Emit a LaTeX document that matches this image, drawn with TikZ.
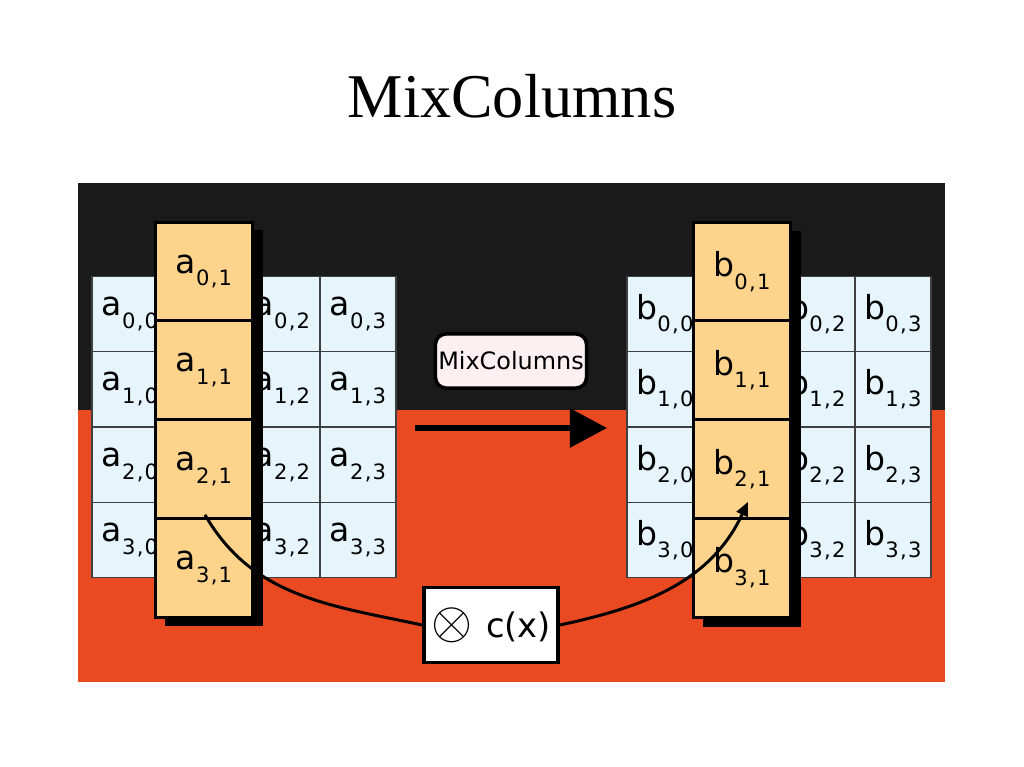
\documentclass[tikz,border=0pt]{standalone}
\usepackage{fontspec}
\setmainfont{Liberation Serif}
\newfontfamily\cellfont{DejaVu Sans}
\newfontfamily\subfont[LetterSpace=6]{DejaVu Sans}
\usepackage{tikz}
\usetikzlibrary{arrows.meta,positioning,calc}
\pgfdeclarelayer{bg}
\pgfsetlayers{bg,main}
\definecolor{panelblack}{RGB}{26,26,26}
\definecolor{panelred}{RGB}{233,74,34}
\definecolor{cellblue}{RGB}{230,245,252}
\definecolor{cellorange}{RGB}{254,212,140}
\definecolor{boxpink}{RGB}{253,240,240}
\newcommand{\ent}[2]{#1\raisebox{-3.6pt}{\subfont\fontsize{6}{6}\selectfont #2}}

\begin{document}
\begin{tikzpicture}[x=0.01cm,y=-0.01cm,
    statecell/.style={draw=black!75, line width=0.4pt, fill=cellblue, minimum width=0.76cm, minimum height=0.755cm, inner sep=0pt, font=\cellfont\fontsize{9.4}{10}\selectfont},
    colcell/.style={draw=black, line width=0.8pt, fill=cellorange, minimum width=0.97cm, minimum height=0.9875cm, inner sep=0pt, font=\cellfont\fontsize{9.4}{10}\selectfont}]
    \useasboundingbox (0,0) rectangle (1024,767);

    \node [font=\fontsize{17.7}{20}\selectfont, anchor=base] (title) at (512,118) {MixColumns};

    % state a
    \node [statecell] (a00) at (130,314) {\ent{a}{0,0}};
    \node [statecell] (a10) at (130,389) {\ent{a}{1,0}};
    \node [statecell] (a20) at (130,465) {\ent{a}{2,0}};
    \node [statecell] (a30) at (130,540) {\ent{a}{3,0}};
    \node [statecell] (a02) at (282,314) {\ent{a}{0,2}};
    \node [statecell] (a12) at (282,389) {\ent{a}{1,2}};
    \node [statecell] (a22) at (282,465) {\ent{a}{2,2}};
    \node [statecell] (a32) at (282,540) {\ent{a}{3,2}};
    \node [statecell] (a03) at (358,314) {\ent{a}{0,3}};
    \node [statecell] (a13) at (358,389) {\ent{a}{1,3}};
    \node [statecell] (a23) at (358,465) {\ent{a}{2,3}};
    \node [statecell] (a33) at (358,540) {\ent{a}{3,3}};
    \fill [black] (165,230) rectangle (263,626);
    \node [colcell] (a01) at (204,271.5) {\ent{a}{0,1}};
    \node [colcell] (a11) at (204,370.25) {\ent{a}{1,1}};
    \node [colcell] (a21) at (204,469) {\ent{a}{2,1}};
    \node [colcell] (a31) at (204,567.75) {\ent{a}{3,1}};

    % state b
    \node [statecell] (b00) at (665,314) {\ent{b}{0,0}};
    \node [statecell] (b10) at (665,389) {\ent{b}{1,0}};
    \node [statecell] (b20) at (665,465) {\ent{b}{2,0}};
    \node [statecell] (b30) at (665,540) {\ent{b}{3,0}};
    \node [statecell] (b02) at (817,314) {\ent{b}{0,2}};
    \node [statecell] (b12) at (817,389) {\ent{b}{1,2}};
    \node [statecell] (b22) at (817,465) {\ent{b}{2,2}};
    \node [statecell] (b32) at (817,540) {\ent{b}{3,2}};
    \node [statecell] (b03) at (893,314) {\ent{b}{0,3}};
    \node [statecell] (b13) at (893,389) {\ent{b}{1,3}};
    \node [statecell] (b23) at (893,465) {\ent{b}{2,3}};
    \node [statecell] (b33) at (893,540) {\ent{b}{3,3}};
    \fill [black] (703,231) rectangle (801,627);
    \node [colcell] (b01) at (742,271.5) {\ent{b}{0,1}};
    \node [colcell] (b11) at (742,370.25) {\ent{b}{1,1}};
    \node [colcell] (b21) at (742,469) {\ent{b}{2,1}};
    \node [colcell] (b31) at (742,567.75) {\ent{b}{3,1}};

    \node [draw=black, line width=1pt, rounded corners=3pt, fill=boxpink, minimum width=1.51cm, minimum height=0.54cm, inner sep=0pt, font=\cellfont\fontsize{6.8}{7}\selectfont] (mixlabel) at (511,361) {MixColumns};
    \coordinate (arrowL) at (415,428);
    \coordinate (arrowR) at (607,428);
    \draw [line width=1.6pt, -{Triangle[length=0.37cm,width=0.38cm]}] (arrowL) -- (arrowR);

    \node [draw=black, line width=1pt, fill=white, minimum width=1.34cm, minimum height=0.75cm, inner sep=0pt, font=\cellfont\fontsize{9.6}{11}\selectfont] (cx) at (491,625) {\raisebox{-0.2pt}{\scalebox{1.5}{$\otimes$}}\hspace{4pt}c(x)};
    \draw [line width=0.85pt] ($(a21.south)+(1,-5)$) to [out=-60,in=168] (cx.west);
    \draw [line width=0.85pt, -{Triangle[length=0.14cm,width=0.12cm]}] (cx.east) to [out=12,in=-115] ($(b21.south)+(6,-18)$);

    \begin{pgfonlayer}{bg}    % panel behind the states
        \fill [panelblack] (78,183) rectangle (945,410);
        \fill [panelred] (78,410) rectangle (945,682);
    \end{pgfonlayer}
\end{tikzpicture}
\end{document}
